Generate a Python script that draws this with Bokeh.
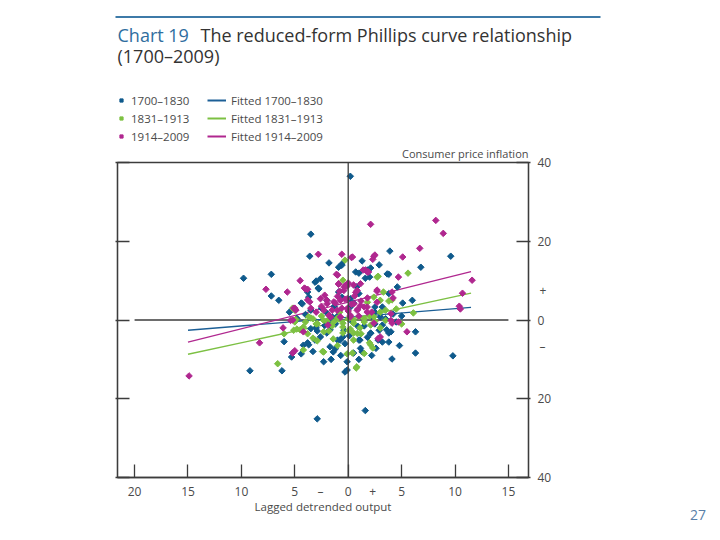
from math import pi
from bokeh.plotting import figure
from bokeh.layouts import column, row
from bokeh.models import (LinearAxis, FixedTicker, CustomJSTickFormatter, Span,
                          Label, Legend, LegendItem, Range1d, Div)
from bokeh.embed import file_html
from bokeh.resources import INLINE

# values: lagged detrended output (x) vs CPI inflation (y), per cent
early_x = [0.2, -3.5, -3.6, -9.8, -7.2, -7.2, -3.0, -2.8, -4.4, -0.9, -0.6, 0.7, 0.8, 3.9,
           6.8, 9.6, 3.8, 2.1, 1.0, 1.6, -0.6, 3.2, 5.1, 4.2, 6.3, 6.3, 4.1, 9.8, 1.6, 3.8,
           3.6, 3.2, 1.3, 0.5, -0.1, -0.3, 3.2, 2.5, -9.2, -6.2, -2.9, -5.3, -4.4, -3.8,
           -3.7, -1.4, -2.3, -0.1, -0.75, -0.5, -2.9, -2.0, -3.8, -0.9, -0.6, 2.5, 3.0,
           -2.0, -1.7, -3.7, 0.2, 0.5, 1.1, 2.1, 2.8, -1.7, -2.6, 1.8, 2.0, -5.2, -1.2,
           -3.0, -1.0, 1.5, 2.2, -2.5, 4.5,
           -3.1, -2.75, -4.3, -3.5, 3.65, 4.6, 3.8, 1.0, 0.2, -1.5, -4.8, -3.5, -3.1,
           -1.0, -0.4, 1.0, 1.15, 2.1, 2.9, 4.0, 3.8, 2.6, -1.7, -4.2,
           -1.2, 0.9, -2.2, 1.8, -0.3, 2.2, -1.6, 0.1, 3.5, -4.0, -2.6, 1.3, -1.8, 2.9,
           -6.0, -5.5, 4.8, 5.0, -1.3, 0.4, -3.3, 1.0, -0.7, 2.5, -2.0, 6.0, -6.5]
early_y = [36.5, 21.8, 16.2, 10.6, 11.6, 6.1, 9.9, 8.1, 4.3, 13.4, 14.2, 12.2, 8.4, 17.5,
           13.4, 16.2, 11.6, 13.2, 11.9, 10.6, 13.9, 3.3, 4.3, 1.5, -3.0, -8.4, -9.9, -9.1,
           -23.0, -3.3, -2.5, -5.6, -8.1, -8.4, -10.6, -13.2, -1.3, 3.3, -12.9, -12.9,
           -25.1, -9.4, -8.6, -5.8, -6.3, -8.1, -10.6, -12.7, -5.1, -4.3, -2.8, -3.3, 7.1,
           7.1, 5.8, 2.0, 0.8, 1.8, 0.0, 5.8, 3.3, 4.3, -5.1, -3.3, -5.1, -2.5, -4.3, 12.7,
           10.9, -8.4, -7.3, -2.0, 1.0, -1.5, 1.0, 3.0, -0.5,
           9.6, 7.9, 4.1, 2.5, 11.7, 8.4, 6.7, 6.7, 5.4, 0.8, 0.4, -2.2, -5.1,
           -5.1, -2.6, -5.1, -7.2, -3.4, -2.6, -3.0, -5.6, -7.2, -6.8, -6.4,
           -1.0, -1.6, -1.4, -4.4, -6.0, -9.0, -10.0, -4.0, 0.3, 1.4, 10.5, 15.0, 14.5, 14.0,
           -5.5, 2.0, -6.5, 1.0, 3.5, -0.5, -8.0, -10.0, -9.0, -1.0, 5.0, 5.0, 5.0]

mid_x = [2.8, 5.6, 6.1, 3.3, 4.1, -0.3, 2.4, 2.7, -0.5, 3.8, -5.2, -6.6, 0.8, 0.4, -4.2,
         2.1, 2.3, 2.0, -2.3, -3.3, -2.9, -1.4, -0.5, 0.2, 1.1, -4.8, -4.5, -5.0, -3.7,
         -3.3, 0.75, 0.5, -5.0, -2.4, -0.1, -0.5, -3.5, -4.0, -3.0, -2.0, -1.5, -1.0,
         -0.5, 0.0, 0.5, 1.0, 1.5, 2.0, 2.5, 3.0, -2.5, 1.2, -1.8, 3.5, -4.9,
         3.0, -2.3, -1.35, 0.5, 1.5, 2.4, 3.5, -2.9, -4.2, -5.1, -2.3, 0.05, 0.85, 2.1,
         0.5, -1.0, 1.5, -3.8, 3.0, 4.5, -0.8, 1.8, -6.0, 5.0]
mid_y = [11.1, 11.9, 1.8, 7.1, 5.1, 15.2, 5.8, 10.9, 10.1, 4.8, 3.0, -11.1, -11.9, -8.4,
         -7.6, -6.3, -7.1, -5.8, -8.1, -4.6, -5.3, -4.8, -3.3, -2.3, -2.0, -2.3, -2.5,
         2.5, 0.8, 0.3, -12.2, -3.3, -0.5, -8.0, -8.6, -0.8, 0.5, -0.5, -1.0, -0.3, -1.5,
         0.5, -1.8, 0.3, -0.8, 0.8, -0.5, 1.0, -0.3, 2.0, 1.0, -3.5, -2.8, 2.5, 0.1,
         5.0, -0.1, -0.5, -0.1, 0.35, 0.8, -0.1, -0.9, -1.8, -2.6, -3.0, -2.6, -3.4, -1.3,
         -5.1, -6.5, -8.5, -3.5, -2.0, 2.8, 2.0, 4.5, -3.5, -1.0]

late_x = [-2.8, -0.6, 0.3, -7.7, -5.7, -4.1, -3.8, -1.0, -0.9, -0.1, -3.6, 2.1, 8.2, 8.9,
          6.7, 5.1, 2.4, 2.3, 0.4, 1.6, 4.7, 11.6, 10.7, 10.4, 10.5, 2.7, 4.2, -0.4, 0.5,
          5.5, 4.7, 4.1, 3.0, 2.4, -14.9, -8.3, -6.1, -5.2, -5.0, -4.2, -5.2, -5.0, -1.9,
          2.5, 1.4, 1.8, -1.1, 0.0, -0.1, 2.7, 4.1, -3.8, -5.1, -3.0, -2.5, -2.0, -1.5,
          -1.2, -1.0, -0.6, -0.3, 0.0, 0.3, 0.6, 0.9, 1.2, 1.5, 1.8, -2.2, -0.8, 0.7,
          -1.8, 2.2, -3.5, 0.2, 1.0, 2.7, 2.8,
          -1.97, -1.35, -0.72, -0.1, 0.53, 1.15, 1.78, -2.28, -1.03, -0.1, 0.84, 1.78,
          -0.72, 0.2, -1.66, -2.6, -0.41, 0.84, -0.9, -0.25, 1.15, 1.9, -4.5, -4.0, -5.4,
          -4.9, 4.0, 4.0]
late_y = [16.7, 16.7, 15.9, 7.8, 7.1, 8.1, 7.8, 11.4, 9.1, 9.1, 4.6, 24.3, 25.3, 22.0,
          18.2, 16.0, 16.2, 15.4, 16.0, 12.7, 10.9, 10.1, 6.8, 3.5, 2.8, 7.6, 5.6, 8.4,
          8.9, -3.0, -0.5, -0.8, -4.3, -0.8, -14.2, -5.8, -2.0, -8.4, -7.8, -3.0, 0.0,
          3.0, -1.3, 16.5, 12.7, 12.2, 11.6, 9.4, 8.6, 7.3, 7.1, 5.1, 3.0, 2.0, 3.5, 5.0,
          2.5, 4.3, 6.0, 3.0, 5.3, 2.3, 4.0, 6.1, 2.8, 4.8, 3.3, 5.6, 6.3, 7.3, 7.0, 1.2,
          2.0, 3.0, 0.8, 1.0, 4.5, -4.7,
          4.15, 4.6, 5.0, 5.4, 4.15, 3.7, 3.3, 2.45, 2.45, 2.9, 2.45, 2.0,
          0.76, 1.2, 0.76, 5.4, 7.5, 7.5, 9.2, 8.8, 9.2, 12.2, 10.0, 7.9, -0.1,
          2.5, -0.1, 1.6]

fit_x = [-15, 11.5]
fit_early = [-2.6, 3.2]
fit_mid = [-8.7, 6.8]
fit_late = [-5.6, 12.3]

x_ticks = [-20, -15, -10, -5, 0, 5, 10, 15]
y_ticks = [-40, -20, 0, 20, 40]
x_signs = [-2.6, 2.3]     # where the "–" and "+" sit beside the x-axis zero
y_signs = [7.4, -6.7]     # same for the inflation axis

BLUE = "#0f5a8c"
GREEN = "#7dc142"
PINK = "#b0278f"
INK = "#3c3c3c"
TXT = "#4a4a4a"
FONT = "Open Sans"
TOP_H = 142

# ---- heading strip: title and legend (coordinates in page pixels)
top = figure(width=720, height=TOP_H, x_range=Range1d(0, 720), y_range=Range1d(TOP_H, 0),
             x_axis_location=None, y_axis_location=None, output_backend="svg",
             toolbar_location=None, tools="", min_border=0, outline_line_color=None)
top.grid.visible = False
top.segment(x0=[115], y0=[16.5], x1=[600], y1=[16.5], line_color="#3d7aa8", line_width=2)
top.add_layout(Label(x=117, y=46, text="Chart 19", text_font=FONT,
                     text_font_size="18px", text_color="#2f6e9e"))
top.add_layout(Label(x=200, y=46, text="The reduced-form Phillips curve relationship",
                     text_font=FONT, text_font_size="18px", text_color="#333333"))
top.add_layout(Label(x=117, y=67, text="(1700–2009)", text_font=FONT,
                     text_font_size="18px", text_color="#333333"))

# legend-only renderers, parked outside the strip's visible range
mk = dict(marker="square", angle=pi / 4, size=4.6)
lk = dict(marker="square", angle=pi / 4, size=6.5)
k_early = top.scatter([-99], [-99], fill_color=BLUE, line_color=BLUE, **lk)
k_mid = top.scatter([-99], [-99], fill_color=GREEN, line_color=GREEN, **lk)
k_late = top.scatter([-99], [-99], fill_color=PINK, line_color=PINK, **lk)
f_early = top.line([-99, -98], [-99, -99], line_color="#1c5f96", line_width=2)
f_mid = top.line([-99, -98], [-99, -99], line_color="#7cc043", line_width=2)
f_late = top.line([-99, -98], [-99, -99], line_color=PINK, line_width=2)


def make_legend(fig, items, loc, gw, standoff):
    lg = Legend(items=items, location=loc, orientation="vertical",
                padding=0, margin=0, spacing=0, label_height=18, glyph_height=18,
                glyph_width=gw, label_standoff=standoff,
                border_line_color=None, background_fill_alpha=0,
                label_text_font=FONT, label_text_font_size="11.5px",
                label_text_color=TXT)
    fig.add_layout(lg)


make_legend(top, [LegendItem(label="1700–1830", renderers=[k_early]),
                  LegendItem(label="1831–1913", renderers=[k_mid]),
                  LegendItem(label="1914–2009", renderers=[k_late])], (117, TOP_H - 145), 8, 6)
make_legend(top, [LegendItem(label="Fitted 1700–1830", renderers=[f_early]),
                  LegendItem(label="Fitted 1831–1913", renderers=[f_mid]),
                  LegendItem(label="Fitted 1914–2009", renderers=[f_late])],
            (207, TOP_H - 145), 19, 5)

# ---- the chart itself
p = figure(width=600, height=540 - TOP_H, x_range=Range1d(-21.6, 16.88),
           y_range=Range1d(-40, 40), x_axis_location=None, y_axis_location=None,
           output_backend="svg", toolbar_location=None, tools="",
           min_border_left=117, min_border_right=72, min_border_top=161 - TOP_H,
           min_border_bottom=63, title="Consumer price inflation")
p.title.align = "right"
p.title.text_font = FONT
p.title.text_font_size = "11px"
p.title.text_font_style = "normal"
p.title.text_color = TXT
p.title.standoff = 3
p.grid.visible = False
p.outline_line_color = INK
p.outline_line_width = 1.3

blank = CustomJSTickFormatter(code="return ''")


def tick_axis(ticks, tin, tout):
    return LinearAxis(ticker=FixedTicker(ticks=ticks), formatter=blank,
                      major_tick_in=tin, major_tick_out=tout, major_label_standoff=0,
                      major_label_text_font_size="0px", axis_line_color=INK,
                      axis_line_width=1.3, major_tick_line_color=INK,
                      major_tick_line_width=1.3, minor_tick_line_color=None)


def label_axis(ticks, signs, standoff, pad):
    fmt = CustomJSTickFormatter(
        args=dict(plus=signs[0], minus=signs[1], pad=pad),
        code="""
        if (tick == plus) return pad + '+';
        if (tick == minus) return pad + '\u2013';
        return Math.abs(tick).toString();
        """)
    return LinearAxis(ticker=FixedTicker(ticks=ticks + signs), formatter=fmt,
                      major_tick_in=0, major_tick_out=0, major_label_standoff=standoff,
                      axis_line_color=None, major_tick_line_color=None,
                      minor_tick_line_color=None, major_label_text_font=FONT,
                      major_label_text_font_size="12px", major_label_text_color=TXT)


p.add_layout(tick_axis(y_ticks, 12, 2), "left")
p.add_layout(tick_axis(y_ticks, 12, 2), "right")
p.add_layout(label_axis(y_ticks, y_signs, 7, "\u2009"), "right")
p.add_layout(tick_axis(x_ticks, 13, 0), "below")
xlab = label_axis(x_ticks, [x_signs[1], x_signs[0]], 5, "")
xlab.axis_label = "Lagged detrended output"
xlab.axis_label_text_font = FONT
xlab.axis_label_text_font_size = "11.5px"
xlab.axis_label_text_font_style = "normal"
xlab.axis_label_text_color = TXT
xlab.axis_label_standoff = -4
p.add_layout(xlab, "below")

# zero lines
p.add_layout(Span(location=0, dimension="height", line_color=INK, line_width=1.3))
p.line([x_ticks[0], x_ticks[-1]], [0, 0], line_color=INK, line_width=1.3)

# fitted lines
p.line(fit_x, fit_early, line_color="#1c5f96", line_width=1.3)
p.line(fit_x, fit_mid, line_color="#7cc043", line_width=1.3)
p.line(fit_x, fit_late, line_color=PINK, line_width=1.3)

p.scatter(early_x, early_y, fill_color=BLUE, line_color=BLUE, **mk)
p.scatter(mid_x, mid_y, fill_color=GREEN, line_color=GREEN, **mk)
p.scatter(late_x, late_y, fill_color=PINK, line_color=PINK, **mk)

# ---- page number to the right of the chart
side = Div(text="27", width=120, height=540 - TOP_H,
           styles={"font-family": "Open Sans", "font-size": "14px", "color": "#5a7fa8",
                   "padding-left": "85px", "padding-top": "358px",
                   "box-sizing": "border-box"})

page = column(top, row(p, side))
open("out.html", "w").write(file_html(page, INLINE))
